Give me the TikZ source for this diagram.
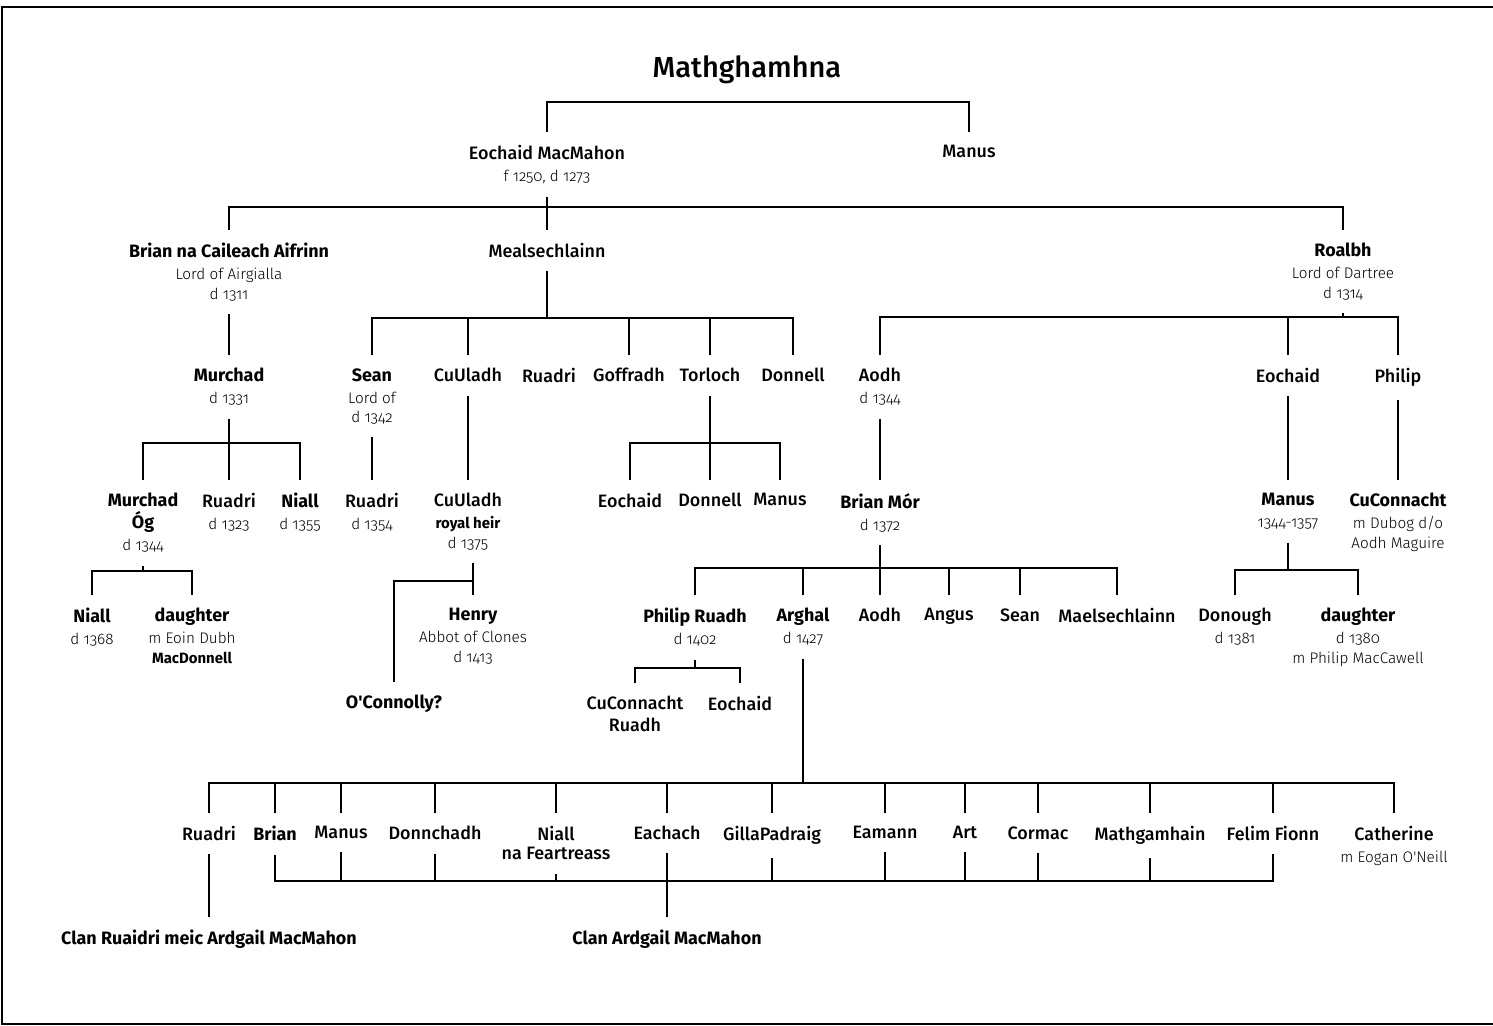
\documentclass[tikz,border=0pt]{standalone}
\usepackage{fontspec}
\setmainfont{Fira Sans}[Numbers=OldStyle]
\newfontfamily\medfont{Fira Sans Medium}[Numbers=OldStyle]
\newfontfamily\boldfont{Fira Sans Bold}[Numbers=OldStyle]
\newfontfamily\lightfont{Fira Sans Light}[Numbers=OldStyle]
\newcommand\nm[1]{{\boldfont #1}}
\newcommand\sub[1]{{\lightfont\fontsize{8.7}{10}\selectfont #1}}
\newcommand\subb[1]{{\boldfont\fontsize{8.5}{10}\selectfont #1}}
\tikzset{
  who/.style={anchor=north, align=center, inner xsep=1pt, inner ysep=0.26cm,
    font=\medfont\fontsize{10.2}{11}\selectfont},
  line/.style={line width=1.5pt},
}

\begin{document}
\begin{tikzpicture}[x=0.02cm, y=-0.02cm]
  \useasboundingbox (0,0) rectangle (1493,1025);
  % frame
  \draw[line width=0.04cm] (1493,7) -- (2,7) -- (2,1023.5) -- (1493,1023.5);

  % title
  \node[font=\medfont\fontsize{16.5}{18}\selectfont] (root) at (747,70) {Mathghamhna};

  % first generations
  \node[who] (eochaid) at (547,132) {Eochaid MacMahon\\[1.5pt]\sub{f 1250, d 1273}};
  \node[who] (manus) at (969,132) {Manus};
  \node[who] (brian) at (229,230) {\nm{Brian na Caileach Aifrinn}\\[1.5pt]\sub{Lord of Airgialla}\\\sub{d 1311}};
  \node[who] (mealsech) at (547,230) {Mealsechlainn};
  \node[who] (roalbh) at (1343,230) {\nm{Roalbh}\\[1.5pt]\sub{Lord of Dartree}\\\sub{d 1314}};

  % grandsons
  \node[who] (murchad) at (229,355) {\nm{Murchad}\\[1.5pt]\sub{d 1331}};
  \node[who] (sean) at (372,355) {\nm{Sean}\\[1.5pt]\sub{Lord of}\\\sub{d 1342}};
  \node[who] (cuuladh) at (468,355) {CuUladh};
  \node[who] (ruadriM) at (549,355) {Ruadri};
  \node[who] (goffradh) at (629,355) {Goffradh};
  \node[who] (torloch) at (710,355) {Torloch};
  \node[who] (donnellM) at (793,355) {Donnell};
  \node[who] (aodh) at (880,355) {Aodh\\[1.5pt]\sub{d 1344}};
  \node[who] (eochaidR) at (1288,355) {Eochaid};
  \node[who] (philip) at (1398,355) {Philip};

  % next row
  \node[who] (murchadog) at (143,480) {\nm{Murchad}\\[1.5pt]\nm{Óg}\\[1.5pt]\sub{d 1344}};
  \node[who] (ruadriMu) at (229,480) {Ruadri\\[1.5pt]\sub{d 1323}};
  \node[who] (niallMu) at (300,480) {\nm{Niall}\\[1.5pt]\sub{d 1355}};
  \node[who] (ruadriS) at (372,480) {Ruadri\\[1.5pt]\sub{d 1354}};
  \node[who] (cuuladhS) at (468,480) {CuUladh\\[1.5pt]\subb{royal heir}\\\sub{d 1375}};
  \node[who] (eochaidT) at (630,480) {Eochaid};
  \node[who] (donnellT) at (710,480) {Donnell};
  \node[who] (manusT) at (780,480) {Manus};
  \node[who] (brianmor) at (880,480) {\nm{Brian Mór}\\[1.5pt]\sub{d 1372}};
  \node[who] (manusE) at (1288,480) {\nm{Manus}\\[1.5pt]\sub{1344-1357}};
  \node[who] (cuconnacht) at (1398,480) {\nm{CuConnacht}\\[1.5pt]\sub{m Dubog d/o}\\\sub{Aodh Maguire}};

  \node[who] (niallMO) at (92,595) {\nm{Niall}\\[1.5pt]\sub{d 1368}};
  \node[who] (daughterMO) at (192,595) {\nm{daughter}\\[1.5pt]\sub{m Eoin Dubh}\\\subb{MacDonnell}};
  \node[who] (henry) at (473,595) {\nm{Henry}\\[1.5pt]\sub{Abbot of Clones}\\\sub{d 1413}};
  \node[who] (oconnolly) at (394,682) {\nm{O'Connolly?}};
  \node[who] (philipR) at (695,595) {\nm{Philip Ruadh}\\[1.5pt]\sub{d 1402}};
  \node[who] (arghal) at (803,595) {\nm{Arghal}\\[1.5pt]\sub{d 1427}};
  \node[who] (aodhB) at (880,595) {Aodh};
  \node[who] (angus) at (949,595) {Angus};
  \node[who] (seanB) at (1020,595) {Sean};
  \node[who] (maelsech) at (1117,595) {Maelsechlainn};
  \node[who] (donough) at (1235,595) {Donough\\[1.5pt]\sub{d 1381}};
  \node[who] (daughterM) at (1358,595) {\nm{daughter}\\[1.5pt]\sub{d 1380}\\\sub{m Philip MacCawell}};

  \node[who] (cuconnachtR) at (635,683) {CuConnacht\\[1.5pt]Ruadh};
  \node[who] (eochaidP) at (740,683) {Eochaid};

  % sons of Arghal
  \node[who] (ruadriA) at (209,813) {Ruadri};
  \node[who] (brianA) at (275,813) {\nm{Brian}};
  \node[who] (manusA) at (341,813) {Manus};
  \node[who] (donnchadh) at (435,813) {Donnchadh};
  \node[who] (niallA) at (556,813) {Niall\\na Feartreass};
  \node[who] (eachach) at (667,813) {Eachach};
  \node[who] (gillapadraig) at (772,813) {GillaPadraig};
  \node[who] (eamann) at (885,813) {Eamann};
  \node[who] (art) at (965,813) {Art};
  \node[who] (cormac) at (1038,813) {Cormac};
  \node[who] (mathgamhain) at (1150,813) {Mathgamhain};
  \node[who] (felim) at (1273,813) {Felim Fionn};
  \node[who] (catherine) at (1394,813) {Catherine\\[1.5pt]\sub{m Eogan O'Neill}};

  \node[who] (clanR) at (209,917) {\nm{Clan Ruaidri meic Ardgail MacMahon}};
  \node[who] (clanA) at (667,917) {\nm{Clan Ardgail MacMahon}};

  % connectors
  \draw[line] (eochaid.north) -- (eochaid.north |- 0,102) -| (manus.north);
  \draw[line] (eochaid.south) -- (mealsech.north);
  \draw[line] (brian.north) |- (roalbh.north |- 0,207) -- (roalbh.north);

  \draw[line] (brian.south) -- (murchad.north);
  \draw[line] (sean.north) |- (donnellM.north |- 0,318) -- (donnellM.north);
  \draw[line] (mealsech.south) -- (mealsech.south |- 0,318);
  \foreach \c in {cuuladh,goffradh,torloch}
    \draw[line] (\c.north) -- (\c.north |- 0,318);
  \draw[line] (aodh.north) |- (philip.north |- 0,317) -- (philip.north);
  \draw[line] (roalbh.south) -- (roalbh.south |- 0,317);
  \draw[line] (eochaidR.north) -- (eochaidR.north |- 0,317);

  \draw[line] (murchadog.north) |- (niallMu.north |- 0,443) -- (niallMu.north);
  \draw[line] (murchad.south) -- (ruadriMu.north);
  \draw[line] (sean.south) -- (ruadriS.north);
  \draw[line] (cuuladh.south) -- (cuuladhS.north);
  \draw[line] (eochaidT.north) |- (manusT.north |- 0,443) -- (manusT.north);
  \draw[line] (torloch.south) -- (donnellT.north);
  \draw[line] (aodh.south) -- (brianmor.north);
  \draw[line] (eochaidR.south) -- (manusE.north);
  \draw[line] (philip.south) -- (cuconnacht.north);

  \draw[line] (niallMO.north) |- (daughterMO.north |- 0,571) -- (daughterMO.north);
  \draw[line] (murchadog.south) -- (murchadog.south |- 0,571);
  \draw[line] (henry.north |- cuuladhS.south) -- (henry.north);
  \draw[line] (henry.north |- 0,581) -| (oconnolly.north);
  \draw[line] (philipR.north) |- (maelsech.north |- 0,568) -- (maelsech.north);
  \draw[line] (brianmor.south) -- (brianmor.south |- 0,568);
  \foreach \c in {arghal,aodhB,angus,seanB}
    \draw[line] (\c.north) -- (\c.north |- 0,568);
  \draw[line] (donough.north) |- (daughterM.north |- 0,570) -- (daughterM.north);
  \draw[line] (manusE.south) -- (manusE.south |- 0,570);

  \draw[line] (cuconnachtR.north) |- (eochaidP.north |- 0,668) -- (eochaidP.north);
  \draw[line] (philipR.south) -- (philipR.south |- 0,668);

  % Arghal's line
  \draw[line] (ruadriA.north) |- (catherine.north |- 0,783) -- (catherine.north);
  \draw[line] (arghal.south) -- (arghal.south |- 0,783);
  \foreach \c in {brianA,manusA,donnchadh,niallA,eachach,gillapadraig,eamann,art,cormac,mathgamhain,felim}
    \draw[line] (\c.north) -- (\c.north |- 0,783);
  \draw[line] (brianA.south) |- (felim.south |- 0,881) -- (felim.south);
  \foreach \c in {manusA,donnchadh,niallA,gillapadraig,eamann,art,cormac,mathgamhain}
    \draw[line] (\c.south) -- (\c.south |- 0,881);
  \draw[line] (eachach.south) -- (clanA.north);
  \draw[line] (ruadriA.south) -- (clanR.north);
\end{tikzpicture}
\end{document}
